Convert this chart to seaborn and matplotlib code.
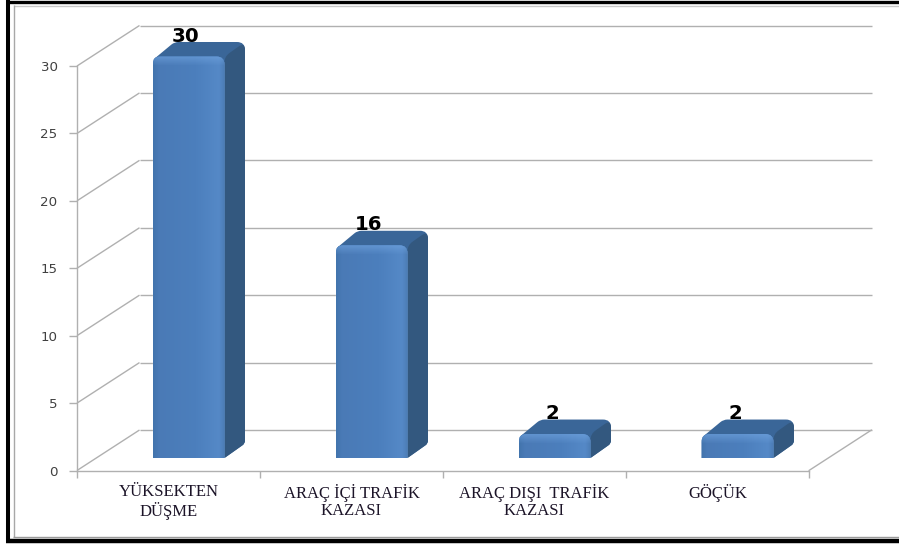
import numpy as np
import matplotlib
matplotlib.use("Agg")
import matplotlib.pyplot as plt
import pandas as pd
import seaborn as sns
from matplotlib.colors import LinearSegmentedColormap
from matplotlib.lines import Line2D
from matplotlib.patches import PathPatch
from matplotlib.path import Path

categories = ["YÜKSEKTEN\nDÜŞME", "ARAÇ İÇİ TRAFİK\nKAZASI", "ARAÇ DIŞI  TRAFİK\nKAZASI", "GÖÇÜK"]
values = [30, 16, 2, 2]
y_ticks = [0, 5, 10, 15, 20, 25, 30]

W, H = 899, 545
FRONT_L, FRONT_R, FRONT_T, FRONT_B = 77, 809, 66, 470.5
WALL_DX, WALL_DY = 62.5, 40.5      # depth of the chart box, px
BAR_DX, BAR_DY = 20, 12.5          # offset of bar plane from front plane, px
SIDE_DX, SIDE_DY = 20.5, 14.5      # bar depth, px
TOP_INSET, R = 3, 8                # px
BAR_W = 72 / 183
GRID = "#b0b0b0"

sns.set_theme(style="white")
fig = plt.figure(figsize=(W / 100, H / 100), dpi=100, facecolor="white")


def box(l, r, t, b):
    return [l / W, 1 - b / H, (r - l) / W, (b - t) / H]


ax = fig.add_axes(box(FRONT_L, FRONT_R, FRONT_T, FRONT_B), zorder=1)
bx = fig.add_axes(box(FRONT_L + BAR_DX, FRONT_R + BAR_DX, FRONT_T - BAR_DY, FRONT_B - BAR_DY), zorder=2)

df = pd.DataFrame({"cat": categories, "val": values})
sns.barplot(data=df, x="cat", y="val", ax=bx, color="#4a7ebb", width=BAR_W, saturation=1, errorbar=None)

for a in (ax, bx):
    a.set_xlim(-0.5, len(categories) - 0.5)
    a.set_ylim(0, 30)
bx.axis("off")
bx.patch.set_alpha(0)

ppx = len(categories) / (FRONT_R - FRONT_L)     # category units per px
ppy = 30 / (FRONT_B - FRONT_T)                  # value units per px

# walls and floor
ax.set_facecolor("none")
wx, wy = WALL_DX * ppx, WALL_DY * ppy
x0, x1 = -0.5, len(categories) - 0.5
for t in y_ticks:
    ax.plot([x0, x0 + wx], [t, t + wy], color=GRID, lw=1.0, clip_on=False, solid_capstyle="butt")
    ax.plot([x0 + wx, x1 + wx], [t + wy, t + wy], color=GRID, lw=1.0, clip_on=False, solid_capstyle="butt")
ax.plot([x1, x1 + wx], [0, wy], color=GRID, lw=1.0, clip_on=False)

for s in ("top", "right"):
    ax.spines[s].set_visible(False)
for s in ("left", "bottom"):
    ax.spines[s].set_color(GRID)
    ax.spines[s].set_linewidth(1.0)
ax.set_xlabel("")
ax.set_ylabel("")
ax.set_yticks(y_ticks)
ax.tick_params(axis="y", length=6, width=1.0, color=GRID, pad=8, left=True, labelsize=9.6, labelcolor="#404040")
for lab in ax.get_yticklabels():
    lab.set_fontfamily("DejaVu Sans")
ax.set_xticks(np.arange(len(categories) + 1) - 0.5)
ax.set_xticklabels([])
ax.set_xticks(np.arange(len(categories)), labels=categories, minor=True)
ax.tick_params(axis="x", which="major", length=5, width=1.0, color=GRID, bottom=True)
ax.tick_params(axis="x", which="minor", length=0, pad=10, labelsize=12, labelcolor="#1c1428")
for lab in ax.get_xticklabels(minor=True):
    lab.set_fontfamily("Liberation Serif")
    lab.set_linespacing(1.08)
    lab.set_va("top")

# bars: front gradient + side and top faces, built from the seaborn bars
cmap = LinearSegmentedColormap.from_list(
    "front", [(0, "#4274ad"), (0.08, "#4a7ab6"), (0.6, "#4c7fbd"), (0.92, "#5589c7"), (1, "#4c7cb5")])
grad = np.linspace(0, 1, 128)[None, :]
hl_cmap = LinearSegmentedColormap.from_list("hl", [(0, (0.45, 0.65, 0.88, 0.0)), (1, (0.45, 0.65, 0.88, 0.6))])
hl_grad = np.linspace(0, 1, 32)[:, None]
sx, sy = SIDE_DX * ppx, SIDE_DY * ppy


def rounded_path(pts, radii):
    """Closed path through pts (data units), corners rounded by radii given in px."""
    px = np.array([(x / ppx, y / ppy) for x, y in pts])
    verts, codes = [], []
    n = len(px)
    for i in range(n):
        p, a, b = px[i], px[i - 1], px[(i + 1) % n]
        r = radii[i]
        if r <= 0:
            verts.append(p)
            codes.append(Path.MOVETO if i == 0 else Path.LINETO)
            continue
        u = (a - p) / np.hypot(*(a - p))
        w = (b - p) / np.hypot(*(b - p))
        verts += [p + u * min(r, np.hypot(*(a - p)) / 2), p, p + w * min(r, np.hypot(*(b - p)) / 2)]
        codes += [Path.MOVETO if i == 0 else Path.LINETO, Path.CURVE3, Path.CURVE3]
    verts.append(verts[0])
    codes.append(Path.CLOSEPOLY)
    verts = np.array(verts) * [ppx, ppy]
    return Path(verts, codes)


for bar, v in zip(bx.patches, values):
    l, r = bar.get_x(), bar.get_x() + bar.get_width()
    top = bar.get_height() - TOP_INSET * ppy
    shape = PathPatch(rounded_path([(l, 0), (l, top), (r, top), (r, 0)], [0, R, R, 0]),
                      transform=bx.transData, fc="none", ec="none")
    bx.add_patch(shape)
    bar.set_clip_path(shape)
    bar.set_zorder(3)

    # silhouette of top and side faces behind the front face
    sil = [(l + 1.5 * ppx, top - 2.5 * ppy), (l + sx + 1.5 * ppx, top + sy), (r + sx, top + sy), (r + sx, sy), (r, 0),
           (r - 3 * ppx, 0), (r - 3 * ppx, top - 2 * ppy)]
    bx.add_patch(PathPatch(rounded_path(sil, [0, 4, 8, 3, 2, 0, 0]), fc="#3a6698", ec="none", zorder=2,
                           clip_on=False))
    # side face, darker
    side = [(r, 0), (r + sx, sy), (r + sx, top + sy), (r, top)]
    side_patch = PathPatch(rounded_path(side, [0, 3, 8, 6]), fc="#33587f", ec="none", zorder=2.5, clip_on=False)
    bx.add_patch(side_patch)

    im = bx.imshow(grad, cmap=cmap, extent=(l, r, 0, top), aspect="auto", zorder=4)
    im.set_clip_path(shape)
    # soft highlight under the top edge of the front face
    hl = bx.imshow(hl_grad, cmap=hl_cmap, origin="lower", extent=(l, r, top - 10 * ppy, top), aspect="auto", zorder=5)
    hl.set_clip_path(shape)

    bx.text(bar.get_x() + bar.get_width() / 2 - 2.5 * ppx, bar.get_height() + 17.5 * ppy, str(v),
            ha="center", va="center", fontsize=14.2, fontweight="bold", family="DejaVu Sans", color="black", zorder=6)

bx.set_xlim(-0.5, len(categories) - 0.5)
bx.set_ylim(0, 30)


# outer picture frame
def fline(xs, ys, color, lw):
    fig.add_artist(Line2D(np.array(xs) / W, 1 - np.array(ys) / H, color=color, lw=lw, solid_capstyle="butt"))


fline([6, W], [1.5, 1.5], "black", 2.4)
fline([8, 8], [0, 543], "black", 2.9)
fline([6, W], [540.8, 540.8], "black", 3.2)
fline([13.5, W], [5.5, 5.5], "#c8c8c8", 1.0)
fline([13.5, 13.5], [5, 537], "#a8a8a8", 1.0)
fline([13, W], [536.8, 536.8], "#9a9a9a", 1.0)

fig.savefig("out.png", dpi=100, facecolor="white")
